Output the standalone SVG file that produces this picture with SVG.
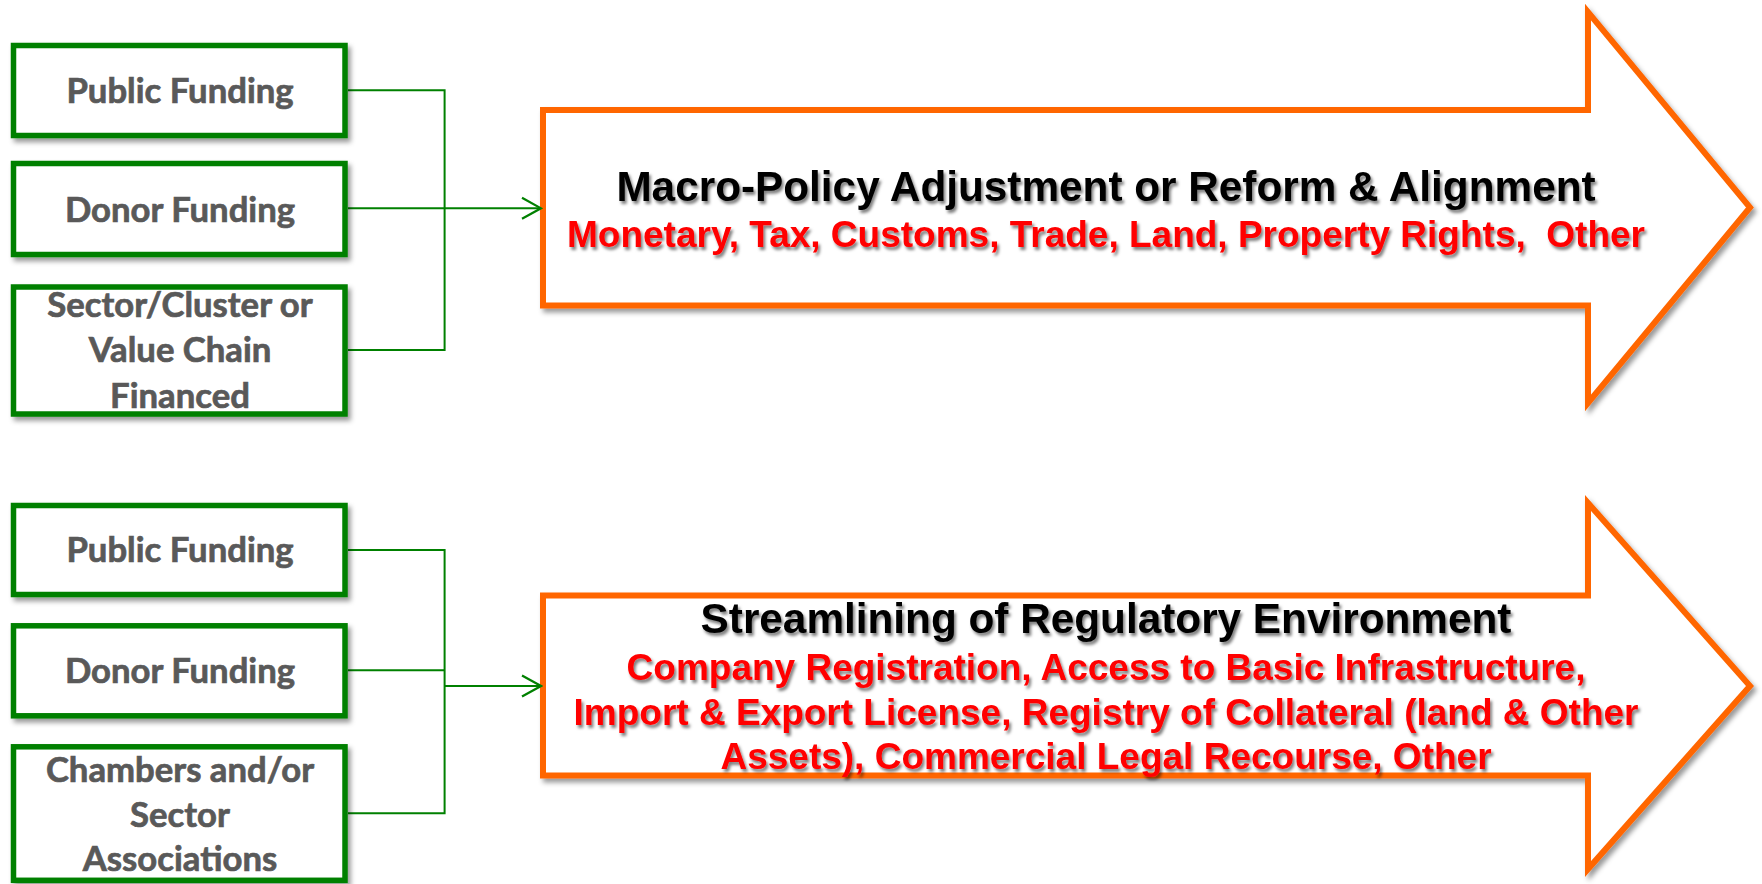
<svg xmlns="http://www.w3.org/2000/svg" width="1762" height="884" viewBox="0 0 1762 884">
<style>
.box{fill:#fff;stroke:#008000;stroke-width:5.5;filter:url(#sh)}
.bt{font-family:Lato,"Open Sans",sans-serif;font-weight:bold;font-size:34.7px;fill:#595959;stroke:#595959;stroke-width:0.7;text-anchor:middle}
.arr{fill:#fff;stroke:#FF6600;stroke-width:6;stroke-linejoin:miter;filter:url(#sh2)}
.title{font-family:"Liberation Sans",Arial,sans-serif;font-weight:bold;font-size:42.3px;fill:#000;text-anchor:middle;filter:url(#tsh)}
.red{font-family:"Liberation Sans",Arial,sans-serif;font-weight:bold;font-size:37px;fill:#FF0000;text-anchor:middle;filter:url(#tsh)}
.con{fill:none;stroke:#008000;stroke-width:2}
</style>
<defs>
<filter id="sh" x="-10%" y="-10%" width="130%" height="140%"><feDropShadow dx="3" dy="4" stdDeviation="2.5" flood-color="#000" flood-opacity="0.4"/></filter>
<filter id="sh2" x="-5%" y="-5%" width="115%" height="115%"><feDropShadow dx="3" dy="4" stdDeviation="2.5" flood-color="#000" flood-opacity="0.4"/></filter>
<filter id="tsh" x="-5%" y="-30%" width="110%" height="170%"><feDropShadow dx="2" dy="3" stdDeviation="1.6" flood-color="#000" flood-opacity="0.5"/></filter>
<marker id="ah" markerUnits="userSpaceOnUse" markerWidth="24" markerHeight="26" viewBox="0 0 24 26" refX="22" refY="13" orient="auto"><path d="M3,2.5 L22,13 L3,23.5" fill="none" stroke="#008000" stroke-width="2.2"/></marker>
</defs>
<g id="arrow-top">
<polygon class="arr" points="543,110 1588,110 1588,12 1750,207.5 1588,403 1588,305.5 543,305.5"/>
<text class="title" x="1106" y="201">Macro-Policy Adjustment or Reform &amp; Alignment</text>
<text class="red" x="1106" y="247" xml:space="preserve">Monetary, Tax, Customs, Trade, Land, Property Rights,  Other</text>
</g>
<g id="arrow-bottom">
<polygon class="arr" points="543,595.5 1588,595.5 1588,503 1750,686 1588,869 1588,775.5 543,775.5"/>
<text class="title" x="1106" y="633">Streamlining of Regulatory Environment</text>
<text class="red" x="1106" y="680">Company Registration, Access to Basic Infrastructure,</text>
<text class="red" x="1106" y="724.5">Import &amp; Export License, Registry of Collateral (land &amp; Other</text>
<text class="red" x="1106" y="768.5">Assets), Commercial Legal Recourse, Other</text>
</g>
<g id="connectors">
<path class="con" d="M348,90.3 H444.6 V350 H348"/>
<path class="con" d="M348,208.3 H541" marker-end="url(#ah)"/>
<path class="con" d="M348,550 H444.6 V813.3 H348"/>
<path class="con" d="M348,670.3 H444.6"/>
<path class="con" d="M444.6,686 H541" marker-end="url(#ah)"/>
</g>
<g id="box-public-1"><rect class="box" x="13.5" y="45.5" width="331.5" height="90"/><text class="bt" x="180" y="102.7">Public Funding</text></g>
<g id="box-donor-1"><rect class="box" x="13.5" y="163.5" width="331.5" height="91"/><text class="bt" x="180" y="221.7">Donor Funding</text></g>
<g id="box-sector-1"><rect class="box" x="13.5" y="287" width="331.5" height="127"/><text class="bt" x="180" y="317">Sector/Cluster or</text><text class="bt" x="180" y="362">Value Chain</text><text class="bt" x="180" y="407.7">Financed</text></g>
<g id="box-public-2"><rect class="box" x="13.5" y="505.5" width="331.5" height="89"/><text class="bt" x="180" y="561.7">Public Funding</text></g>
<g id="box-donor-2"><rect class="box" x="13.5" y="625.8" width="331.5" height="90"/><text class="bt" x="180" y="682.7">Donor Funding</text></g>
<g id="box-chambers-2"><rect class="box" x="13.5" y="746.8" width="331.5" height="133.5"/><text class="bt" x="180" y="781.7">Chambers and/or</text><text class="bt" x="180" y="826.7">Sector</text><text class="bt" x="180" y="871">Associations</text></g>
</svg>
